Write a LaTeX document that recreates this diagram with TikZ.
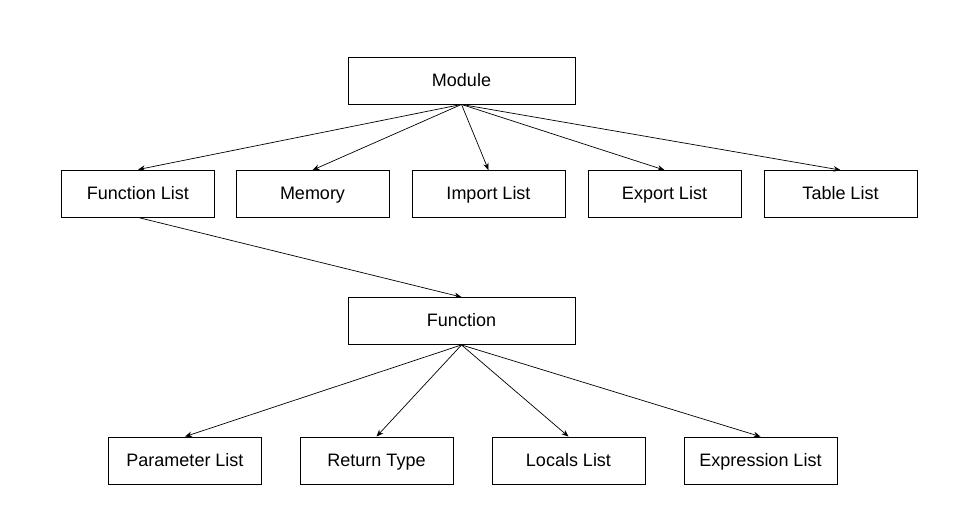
\documentclass[tikz,border=0pt]{standalone}
\usepackage{fontspec}
\setmainfont{Liberation Sans}
\usetikzlibrary{arrows.meta}
\tikzset{
  box/.style={draw, rectangle, line width=0.6pt, minimum height=1.175cm,
    minimum width=3.825cm, inner sep=0pt, text height=0.85em, text depth=0em,
    font=\fontsize{12.8}{15}\selectfont},
  widebox/.style={box, minimum width=5.675cm},
}
\begin{document}
\begin{tikzpicture}[x=0.025cm, y=-0.025cm]
      \useasboundingbox (0,0) rectangle (965,508);
      \draw
        (461.5,80.5) node[widebox] (module){Module}
        (138,193.5) node[box] (funclist){Function List}
        (312.5,194) node[box] (memory){Memory}
        (488.5,194) node[box] (importlist){Import List}
        (664.5,194) node[box] (exportlist){Export List}
        (840.5,194) node[box] (tablelist){Table List}
        (461.5,321) node[widebox] (function){Function}
        (185,460.5) node[box] (paramlist){Parameter List}
        (376.5,460.5) node[box] (rettype){Return Type}
        (568.5,460.5) node[box] (localslist){Locals List}
        (760.5,460.5) node[box] (exprlist){Expression List};
      \begin{scope}[-{Stealth[length=5pt,width=4pt]}, line width=0.5pt]
        \draw (module.south) to (funclist.north);
        \draw (module.south) to (memory.north);
        \draw (module.south) to (importlist.north);
        \draw (module.south) to (exportlist.north);
        \draw (module.south) to (tablelist.north);
        \draw (funclist.south) to (function.north);
        \draw (function.south) to (paramlist.north);
        \draw (function.south) to (rettype.north);
        \draw (function.south) to (localslist.north);
        \draw (function.south) to (exprlist.north);
      \end{scope}
    \end{tikzpicture}
\end{document}
